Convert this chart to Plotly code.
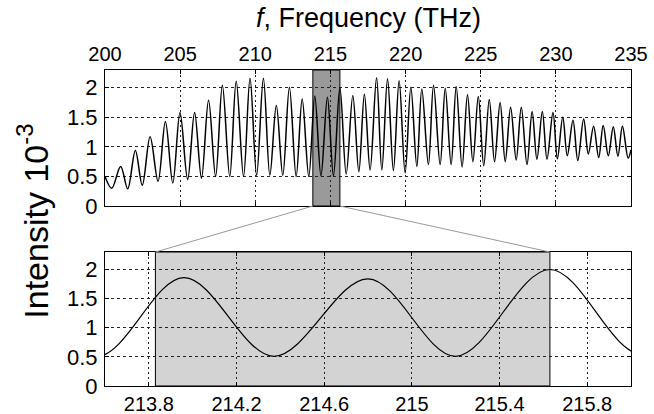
import plotly.graph_objects as go

# Extrema (frequency THz, intensity 1e-3)
peak_f = [201.04, 202.02, 203.00, 204.02, 204.99, 205.96, 206.89, 207.81, 208.73, 209.65,
          210.54, 211.40, 212.27, 213.12, 213.96, 214.80, 215.63, 216.49, 217.26, 218.07,
          218.80, 219.57, 220.35, 221.08, 221.86, 222.64, 223.37, 224.12, 224.84, 225.57,
          226.29, 226.99, 227.70, 228.42, 229.10, 229.81, 230.46, 231.14, 231.85, 232.51,
          233.15, 233.82, 234.43]
peak_v = [0.67, 0.94, 1.17, 1.43, 1.58, 1.58, 1.79, 2.04, 2.11, 2.16,
          2.16, 1.70, 2.01, 1.81, 1.86, 1.84, 2.00, 1.87, 1.89, 2.17,
          2.15, 2.12, 2.01, 1.98, 2.04, 1.99, 2.02, 1.88, 1.85, 1.80,
          1.75, 1.67, 1.67, 1.60, 1.60, 1.58, 1.50, 1.45, 1.47, 1.35,
          1.36, 1.34, 1.35]
trough_f = [200.45, 201.51, 202.48, 203.53, 204.51, 205.50, 206.42, 207.36, 208.30, 209.22,
            210.09, 210.97, 211.83, 212.72, 213.56, 214.37, 215.20, 216.05, 216.89, 217.64,
            218.42, 219.19, 219.97, 220.75, 221.52, 222.30, 223.03, 223.76, 224.48, 225.20,
            225.92, 226.63, 227.36, 228.08, 228.74, 229.41, 230.10, 230.76, 231.46, 232.16,
            232.85, 233.49, 234.13, 234.81]
trough_v = [0.30, 0.29, 0.35, 0.42, 0.39, 0.45, 0.47, 0.50, 0.50, 0.50,
            0.52, 0.52, 0.52, 0.50, 0.50, 0.51, 0.51, 0.54, 0.58, 0.61,
            0.61, 0.60, 0.56, 0.67, 0.70, 0.70, 0.70, 0.66, 0.75, 0.68,
            0.75, 0.75, 0.78, 0.70, 0.79, 0.79, 0.80, 0.85, 0.77, 0.88,
            0.82, 0.85, 0.84, 0.81]
end_f = [200.0, 235.0]
end_v = [0.50, 0.95]

top_range = [200, 235]
bot_range = [213.6, 216.0]
zoom_band = [213.83, 215.63]
y_range = [0, 2.3]
top_ticks = [200, 205, 210, 215, 220, 225, 230, 235]
bot_ticks = [213.8, 214.2, 214.6, 215.0, 215.4, 215.8]
bot_ticklabels = ["213.8", "214.2", "214.6", "215", "215.4", "215.8"]
y_ticks = [0, 0.5, 1, 1.5, 2]
y_ticklabels = ["0", "0.5", "1", "1.5", "2"]

pts = sorted(zip(peak_f + trough_f + end_f, peak_v + trough_v + end_v))
fx = [p[0] for p in pts]
fy = [p[1] for p in pts]

fig = go.Figure()
fig.add_trace(go.Scatter(x=fx, y=fy, mode="lines", xaxis="x", yaxis="y",
                         line=dict(color="black", width=1.5, shape="spline", smoothing=1.0),
                         showlegend=False, hoverinfo="skip"))
fig.add_trace(go.Scatter(x=fx, y=fy, mode="lines", xaxis="x2", yaxis="y2",
                         line=dict(color="black", width=1.2, shape="spline", smoothing=1.0),
                         showlegend=False, hoverinfo="skip"))

TOP_DOM = [0.5696, 1.0]
BOT_DOM = [0.0, 0.424]
font = "Liberation Sans, Arial, sans-serif"

common = dict(showline=True, linecolor="black", linewidth=1, mirror="ticks",
              ticks="inside", ticklen=4, tickcolor="black", zeroline=False,
              showgrid=True, gridcolor="#222", gridwidth=1, automargin=False)

def tf(size):
    return dict(size=size, color="black", family=font)

fig.update_layout(
    width=654, height=414,
    margin=dict(l=105, r=23, t=70, b=28),
    paper_bgcolor="white", plot_bgcolor="white",
    font=dict(family=font, color="black"),
    xaxis=dict(domain=[0, 1], range=top_range, anchor="y", side="top",
               tickmode="array", tickvals=top_ticks, griddash="2px,3px",
               tickfont=tf(20), **common),
    yaxis=dict(domain=TOP_DOM, range=y_range, anchor="x",
               tickmode="array", tickvals=y_ticks, ticktext=y_ticklabels,
               griddash="3px,3px", tickfont=tf(22), ticklabelstandoff=2, **common),
    xaxis2=dict(domain=[0, 1], range=bot_range, anchor="y2", side="bottom",
                tickmode="array", tickvals=bot_ticks, ticktext=bot_ticklabels,
                griddash="2px,3px", tickfont=tf(20), ticklabelstandoff=0, **common),
    yaxis2=dict(domain=BOT_DOM, range=y_range, anchor="x2",
                tickmode="array", tickvals=y_ticks, ticktext=y_ticklabels,
                griddash="3px,3px", tickfont=tf(22), ticklabelstandoff=2, **common),
)

shapes = [
    dict(type="rect", xref="x", yref="y", x0=zoom_band[0], x1=zoom_band[1],
         y0=y_range[0], y1=y_range[1], fillcolor="#9a9a9a",
         line=dict(color="black", width=1), layer="below"),
    dict(type="rect", xref="x2", yref="y2", x0=zoom_band[0], x1=zoom_band[1],
         y0=y_range[0], y1=y_range[1], fillcolor="#d3d3d3",
         line=dict(color="black", width=1), layer="below"),
]

def top_paper(x):
    return (x - top_range[0]) / (top_range[1] - top_range[0])

def bot_paper(x):
    return (x - bot_range[0]) / (bot_range[1] - bot_range[0])

for xb in zoom_band:
    shapes.append(dict(type="line", xref="paper", yref="paper",
                       x0=top_paper(xb), y0=TOP_DOM[0], x1=bot_paper(xb), y1=BOT_DOM[1],
                       line=dict(color="#999999", width=1)))
fig.update_layout(shapes=shapes)

fig.add_annotation(text="<i>f</i>, Frequency (THz)", xref="paper", yref="paper",
                   x=0.5, y=1, yshift=52, showarrow=False, yanchor="middle",
                   font=dict(size=27, color="black", family=font))
fig.add_annotation(text="Intensity 10<sup>-3</sup>", xref="paper", yref="paper",
                   x=0, xshift=-72, y=0.52, showarrow=False, textangle=-90,
                   xanchor="center", yanchor="middle",
                   font=dict(size=34, color="black", family=font))

fig.write_html("out.html")
